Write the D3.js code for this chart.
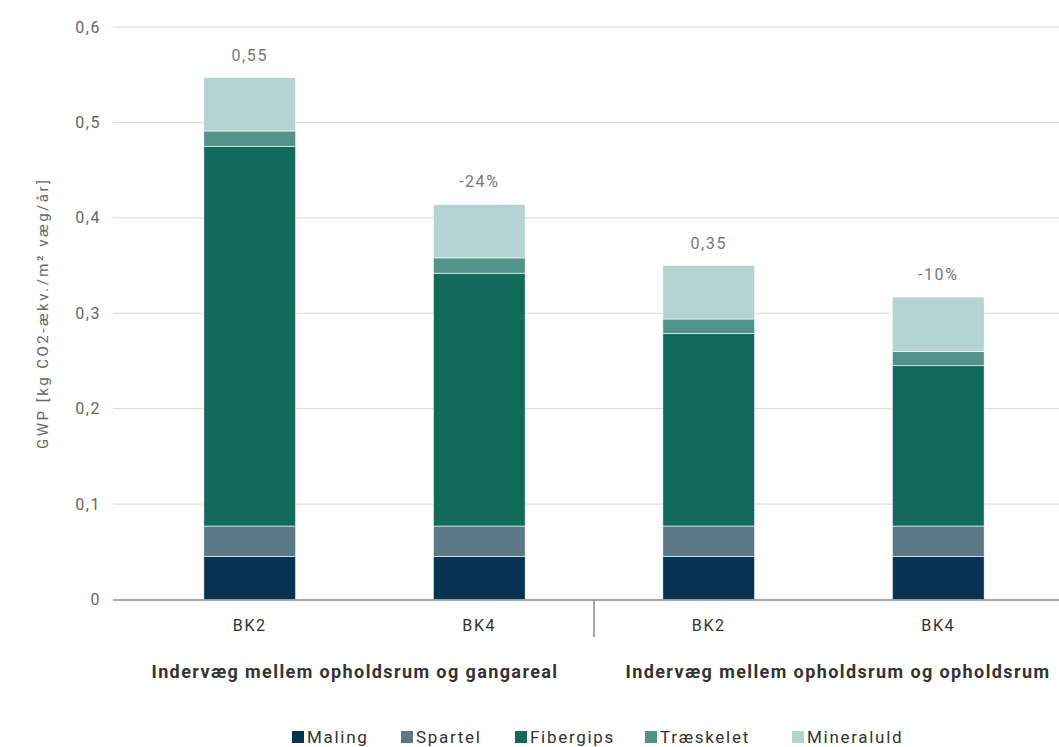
<!DOCTYPE html>
<html>
<head>
<meta charset="utf-8">
<script src="https://cdn.jsdelivr.net/npm/d3@7"></script>
<style>
  body { margin: 0; background: #fff; }
  svg { font-family: Roboto, "Noto Sans", sans-serif; }
</style>
</head>
<body>
<div id="chart"></div>
<script>
// data
const categories = ['BK2', 'BK4', 'BK2 ', 'BK4 ']
const groups = ['Indervæg mellem opholdsrum og gangareal', 'Indervæg mellem opholdsrum og opholdsrum']
const seriesNames = ['Maling', 'Spartel', 'Fibergips', 'Træskelet', 'Mineraluld']
const maling = [0.045, 0.045, 0.045, 0.045]
const spartel = [0.032, 0.032, 0.032, 0.032]
const fibergips = [0.398, 0.265, 0.202, 0.168]
const traeskelet = [0.016, 0.016, 0.015, 0.015]
const mineraluld = [0.056, 0.056, 0.056, 0.057]
const topLabels = ['0,55', '-24%', '0,35', '-10%']
const yTicks = [0, 0.1, 0.2, 0.3, 0.4, 0.5, 0.6]

const colors = ['#073351', '#5b7889', '#116a5c', '#52938a', '#b3d4d2']

const width = 1059
const height = 747

const rows = categories.map((c, i) => ({
    cat: c,
    Maling: maling[i],
    Spartel: spartel[i],
    Fibergips: fibergips[i],
    'Træskelet': traeskelet[i],
    Mineraluld: mineraluld[i]
}))

const svg = d3.select('#chart').append('svg')
    .attr('width', width)
    .attr('height', height)

const x = d3.scaleBand()
    .domain(categories)
    .range([135, 1053])
    .paddingInner(0.6)
    .paddingOuter(0.3)

const y = d3.scaleLinear()
    .domain([0, 0.6])
    .range([599.5, 27])

// gridlines
svg.append('g')
    .selectAll('line')
    .data(yTicks.slice(1))
    .join('line')
    .attr('x1', 113)
    .attr('x2', width)
    .attr('y1', d => y(d))
    .attr('y2', d => y(d))
    .attr('stroke', '#d9d9d9')
    .attr('stroke-width', 1)

// y tick labels
svg.append('g')
    .selectAll('text')
    .data(yTicks)
    .join('text')
    .attr('x', 101)
    .attr('y', d => y(d))
    .attr('dy', '0.35em')
    .attr('text-anchor', 'end')
    .attr('fill', '#666')
    .attr('font-size', 16)
    .attr('letter-spacing', 1.5)
    .text(d => d === 0 ? '0' : d3.format('.1f')(d).replace('.', ','))

// y axis title
svg.append('text')
    .attr('transform', `translate(48, ${y(0.3)}) rotate(-90)`)
    .attr('text-anchor', 'middle')
    .attr('fill', '#666')
    .attr('font-size', 15)
    .attr('letter-spacing', 2.5)
    .text('GWP [kg CO2-ækv./m² væg/år]')

// stacked bars
const stack = d3.stack().keys(seriesNames)
const layers = stack(rows)

svg.append('g')
    .selectAll('g')
    .data(layers)
    .join('g')
    .attr('fill', (d, i) => colors[i])
    .selectAll('rect')
    .data(d => d)
    .join('rect')
    .attr('x', d => x(d.data.cat))
    .attr('width', x.bandwidth())
    .attr('y', d => y(d[1]))
    .attr('height', d => y(d[0]) - y(d[1]))
    .attr('stroke', '#fff')
    .attr('stroke-width', 0.6)

// totals / labels over bars
svg.append('g')
    .selectAll('text')
    .data(rows)
    .join('text')
    .attr('x', d => x(d.cat) + x.bandwidth() / 2)
    .attr('y', (d, i) => y(layers[layers.length - 1][i][1]) - 17)
    .attr('text-anchor', 'middle')
    .attr('fill', '#777')
    .attr('font-size', 16)
    .attr('letter-spacing', 1.6)
    .text((d, i) => topLabels[i])

// x axis line
svg.append('line')
    .attr('x1', 113)
    .attr('x2', width)
    .attr('y1', 600)
    .attr('y2', 600)
    .attr('stroke', '#888')
    .attr('stroke-width', 1.5)

// group separator
const sepX = (x(categories[1]) + x(categories[2]) + x.bandwidth()) / 2
svg.append('line')
    .attr('x1', sepX)
    .attr('x2', sepX)
    .attr('y1', 600)
    .attr('y2', 637)
    .attr('stroke', '#888')
    .attr('stroke-width', 1.5)

// category labels
svg.append('g')
    .selectAll('text')
    .data(categories)
    .join('text')
    .attr('x', d => x(d) + x.bandwidth() / 2)
    .attr('y', 631)
    .attr('text-anchor', 'middle')
    .attr('fill', '#333')
    .attr('font-size', 16)
    .attr('letter-spacing', 1.6)
    .text(d => d.trim())

// group labels
const groupX = [355, 838]
svg.append('g')
    .selectAll('text')
    .data(groups)
    .join('text')
    .attr('x', (d, i) => groupX[i])
    .attr('y', 678)
    .attr('text-anchor', 'middle')
    .attr('fill', '#333')
    .attr('font-size', 18)
    .attr('font-weight', 'bold')
    .attr('letter-spacing', 1.4)
    .text(d => d)

// legend
const legendX = [292, 401, 515, 645, 792]
const legend = svg.append('g')
    .selectAll('g')
    .data(seriesNames)
    .join('g')
    .attr('transform', (d, i) => `translate(${legendX[i]}, 737)`)
legend.append('rect')
    .attr('x', 0)
    .attr('y', -6)
    .attr('width', 12)
    .attr('height', 12)
    .attr('fill', (d, i) => colors[i])
legend.append('text')
    .attr('x', 15)
    .attr('dy', '0.35em')
    .attr('fill', '#333')
    .attr('font-size', 17)
    .attr('letter-spacing', 1.7)
    .text(d => d)
</script>
</body>
</html>
